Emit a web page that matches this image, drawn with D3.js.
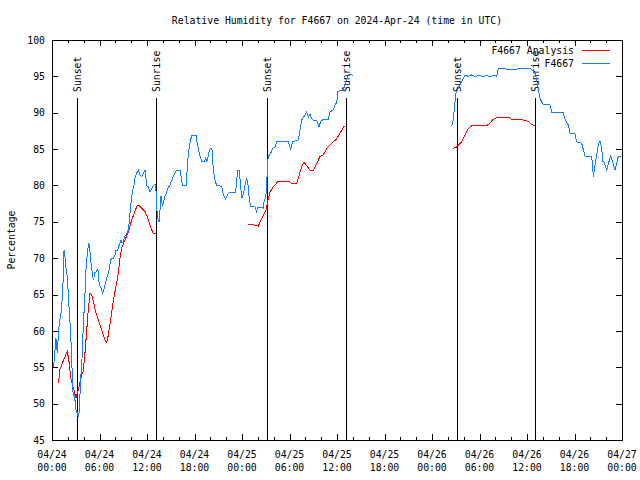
<!DOCTYPE html>
<html>
<head>
<meta charset="utf-8">
<script src="https://cdn.jsdelivr.net/npm/d3@7"></script>
<style>
  body { margin: 0; background: #fff; }
  text { font-family: "DejaVu Sans Mono", monospace; font-size: 9.8px; fill: #000; }
</style>
</head>
<body>
<div id="chart"></div>
<script>
// hours after 2024-04-24 00:00 UTC, null breaks the line
let obsHours = [0.2,0.5,0.67,0.76,0.92,1.14,1.3,1.43,1.52,1.64,1.77,1.93,2.06,2.19,2.36,2.49,2.61,2.69,2.78,2.9,
  3.03,3.2,3.32,3.45,3.54,3.63,3.75,3.88,3.95,4.08,4.17,4.29,4.38,4.51,4.64,4.76,4.89,5.01,5.14,5.27,
  5.39,5.56,5.72,5.85,5.97,6.15,6.27,6.4,6.57,6.69,6.91,7.11,7.24,7.41,7.54,7.74,7.96,8.08,8.3,8.42,
  8.59,8.72,8.84,9.01,9.22,9.44,9.64,9.76,9.89,10.02,10.19,10.36,10.48,10.7,10.9,11.12,11.33,11.53,11.75,11.96,
  12.16,12.38,12.59,12.8,13.1,13.23,13.31,13.52,13.64,13.77,13.93,14.06,14.27,14.49,14.69,14.9,15.12,15.32,15.54,15.75,
  16.17,16.38,16.46,16.93,17.09,17.22,17.43,17.65,18.19,18.35,18.61,18.91,19.24,19.42,19.58,19.74,19.87,20.05,20.21,20.38,
  20.59,20.8,21.43,21.64,21.94,22.14,22.48,23.2,23.33,23.45,23.66,23.83,24.0,24.17,24.38,24.59,24.8,24.92,25.14,25.64,
  25.86,25.93,26.69,26.82,26.97,27.12,27.19,27.32,27.62,27.88,28.17,28.38,29.85,30.15,30.4,31.11,31.33,31.54,31.95,32.17,
  32.37,32.58,32.8,33.0,33.43,33.73,33.94,34.27,34.9,35.11,35.53,35.75,35.97,36.09,36.38,36.8,37.01,37.43,37.86,37.98,
  null,
  50.49,50.69,50.81,50.94,51.03,51.32,51.75,51.95,52.17,52.58,53.01,53.43,53.85,54.48,54.91,55.32,55.96,56.17,56.37,56.8,
  57.43,58.7,59.53,60.38,60.59,61.01,61.22,61.42,61.64,61.85,62.06,62.9,63.12,63.95,64.58,64.8,65.22,65.43,66.06,66.28,
  66.91,67.12,67.33,68.17,68.3,68.38,68.59,68.81,69.01,69.22,69.44,69.56,69.73,70.07,70.27,70.57,70.82,71.11,71.32,71.53,71.83]
let obsRH = [55,59,57,58.7,61,62.5,64.5,67.4,71.1,70.2,68.6,67.4,65.2,62.5,59.7,56,52.3,51,51.3,50.5,
  49.1,48.7,48.2,49,51.4,53.7,55,58.7,60.6,63.3,65.2,68.4,69.7,71.1,72.1,71.4,69.7,68.6,67.4,67,
  68.1,68.1,68.4,68.1,66.3,66,65.6,65.2,65.8,66.3,67.2,68,68.6,69.7,70,70,70.4,71.1,71.1,71.6,
  72.1,72.5,72.1,72.3,73,73.4,73.9,75,76.6,78,79.4,80,81,81.7,82.1,81.4,81.2,81.7,82.1,80,
  79.8,79.1,79.6,80,80.2,77.1,75.7,75,76.6,78.5,77.3,77.6,78.5,79.1,79.8,80,80.7,81.2,81.7,82.1,
  82.1,80.7,80,80,82.4,84.4,85.8,86.9,86.9,85.8,84.4,83.3,83.3,83.8,83.3,84,84.9,85.1,84.9,82.1,
  80.7,80,79.9,78.7,78.1,78.7,79.1,79.1,80.7,82.1,82.1,79.8,78.3,78.8,80,81,79.8,78,77.1,77.1,
  76.2,77,76.9,78,78.3,79.4,82.6,84,84.4,85.1,85.3,86,86,85,86,86.25,87.6,89,89.7,90.1,
  89.4,89.8,89.2,89,89,88.1,88.8,89.1,89.1,90.1,90.4,91.1,91.4,92.9,93.1,93.1,94,95.2,95.2,95,
  null,
  88.1,89,90.4,91.75,92.7,93.4,94.3,94.7,95.2,95,95.2,95,95.1,95,95.1,95,95.1,95,96.1,96.1,
  96,96,96.1,96.1,95.9,95.4,94.5,93.4,92,91.5,91.1,91.1,90.1,90.1,90,89.1,88.3,87.2,87.1,86,
  85.8,84.9,84,84,82.6,81.2,82.8,84.2,85.6,86.1,85.1,83.3,83.2,82.1,83,84,83.3,82.1,83,84,84]

let anaHours = [0.8,1.01,1.43,1.93,2.15,2.36,2.69,3.03,3.32,3.75,3.95,4.17,4.38,4.59,4.8,5.01,5.22,5.52,5.85,6.06,
  6.35,6.69,6.91,7.11,7.33,7.54,7.83,8.08,8.37,8.59,8.8,9.22,9.64,10.07,10.4,10.7,10.9,11.33,11.75,12.04,
  12.29,12.59,12.8,13.14,
  null,
  24.8,25.39,26.06,26.4,26.69,27.03,27.32,27.54,27.95,28.58,29.85,30.28,30.91,31.11,31.54,31.83,32.17,32.59,33.01,33.43,
  33.85,34.27,34.7,35.33,35.96,36.38,36.88,37.05,
  null,
  50.69,51.12,51.75,52.17,52.58,53.01,53.64,54.27,54.91,55.32,55.75,56.37,57.64,58.06,58.9,59.53,60.16,60.59,61.01]
let anaRH = [52.8,54.7,55.9,57.2,55.8,53.5,52.2,50.8,51.9,53.9,54.5,57,60,63,65.2,65,64.1,62.6,61.5,60.8,
  59.9,58.75,58.4,59.4,61,62.6,64.7,66.1,67.9,70,71.4,72.5,73.6,75.25,76.2,77.1,77.3,76.9,76.4,75.7,
  74.8,73.9,73.4,73.4,
  null,
  74.6,74.6,74.4,75.25,75.9,76.6,78.2,79.1,79.8,80.6,80.6,80.3,80.3,81,82.6,83.2,82.7,82.1,82.1,83,
  84,84.2,85.1,85.8,86.4,87.2,88.1,88.2,
  null,
  85.1,85.3,86,86.9,87.85,88.2,88.3,88.2,88.2,88.6,89.1,89.4,89.4,89.1,89.1,89,88.8,88.4,88.2]

let sunsetHours = [3.2, 27.2, 51.1]
let sunriseHours = [13.12, 37.08, 61.05]
let yTicks = [45, 50, 55, 60, 65, 70, 75, 80, 85, 90, 95, 100]

let width = 640
let height = 480
let plotLeft = 52, plotRight = 622, plotTop = 40, plotBottom = 440

let t0 = Date.UTC(2024, 3, 24)
let toDate = (h) => new Date(t0 + h * 3600 * 1000)

let x = d3.scaleUtc()
    .domain([toDate(0), toDate(72)])
    .range([plotLeft, plotRight])
let y = d3.scaleLinear()
    .domain([45, 100])
    .range([plotBottom, plotTop])

let svg = d3.select("#chart").append("svg")
    .attr("width", width)
    .attr("height", height)

// ticks: majors every 6h, minors every 2h, mirrored on top
let majors = d3.utcHour.every(6).range(toDate(0), toDate(72.01))
let minors = d3.utcHour.every(2).range(toDate(0), toDate(72.01))

let tickG = svg.append("g").attr("shape-rendering", "crispEdges")
tickG.append("g").attr("transform", "translate(0," + plotBottom + ")")
    .call(d3.axisBottom(x).tickValues(minors).tickSize(-3).tickSizeOuter(0).tickFormat(""))
tickG.append("g").attr("transform", "translate(0," + plotBottom + ")")
    .call(d3.axisBottom(x).tickValues(majors).tickSize(-6).tickSizeOuter(0).tickFormat(""))
tickG.append("g").attr("transform", "translate(0," + plotTop + ")")
    .call(d3.axisTop(x).tickValues(minors).tickSize(-3).tickSizeOuter(0).tickFormat(""))
tickG.append("g").attr("transform", "translate(0," + plotTop + ")")
    .call(d3.axisTop(x).tickValues(majors).tickSize(-6).tickSizeOuter(0).tickFormat(""))
tickG.append("g").attr("transform", "translate(" + plotRight + ",0)")
    .call(d3.axisRight(y).tickValues(yTicks).tickSize(-6).tickSizeOuter(0).tickFormat(""))
let yAxis = tickG.append("g").attr("transform", "translate(" + plotLeft + ",0)")
    .call(d3.axisLeft(y).tickValues(yTicks).tickSize(-6).tickSizeOuter(0).tickPadding(7).tickFormat(d3.format("d")))

tickG.selectAll(".domain").remove()
tickG.selectAll("line").attr("stroke", "#000")
yAxis.selectAll("text").style("font-family", "DejaVu Sans Mono").style("font-size", "9.8px")

// two-line date labels under the x axis
let fmtDay = d3.utcFormat("%m/%d")
let fmtTime = d3.utcFormat("%H:%M")
let xLabels = svg.append("g").selectAll("text")
    .data(majors)
    .enter().append("text")
    .attr("x", (d) => x(d))
    .attr("text-anchor", "middle")
xLabels.append("tspan").attr("x", (d) => x(d)).attr("y", 458).text((d) => fmtDay(d))
xLabels.append("tspan").attr("x", (d) => x(d)).attr("y", 471).text((d) => fmtTime(d))

// sunset / sunrise markers
let markers = sunsetHours.map((h) => ({ h: h, name: "Sunset" }))
    .concat(sunriseHours.map((h) => ({ h: h, name: "Sunrise" })))

svg.append("g").selectAll("line")
    .data(markers)
    .enter().append("line")
    .attr("x1", (d) => Math.round(x(toDate(d.h))) + 0.5)
    .attr("x2", (d) => Math.round(x(toDate(d.h))) + 0.5)
    .attr("y1", 98)
    .attr("y2", plotBottom)
    .attr("stroke", "#000")
    .attr("shape-rendering", "crispEdges")

svg.append("g").selectAll("text")
    .data(markers)
    .enter().append("text")
    .attr("transform", (d) => "translate(" + (Math.round(x(toDate(d.h))) + 4) + ",92) rotate(-90)")
    .attr("text-anchor", "start")
    .text((d) => d.name)

// data lines, aliased like the original png
let line = (hours) => d3.line()
    .defined((d, i) => hours[i] !== null)
    .x((d, i) => x(toDate(hours[i])))
    .y((d) => y(d))

svg.append("path")
    .datum(anaRH)
    .attr("d", line(anaHours))
    .attr("fill", "none")
    .attr("stroke", "#ff0000")
    .attr("stroke-width", 1)
    .attr("shape-rendering", "crispEdges")

svg.append("path")
    .datum(obsRH)
    .attr("d", line(obsHours))
    .attr("fill", "none")
    .attr("stroke", "#1080ff")
    .attr("stroke-width", 1)
    .attr("shape-rendering", "crispEdges")

// border
svg.append("rect")
    .attr("x", plotLeft + 0.5)
    .attr("y", plotTop + 0.5)
    .attr("width", plotRight - plotLeft)
    .attr("height", plotBottom - plotTop)
    .attr("fill", "none")
    .attr("stroke", "#000")
    .attr("shape-rendering", "crispEdges")

// legend
let legend = [
  { name: "F4667 Analysis", color: "#ff0000", y: 50 },
  { name: "F4667", color: "#1080ff", y: 63 }
]
let lg = svg.append("g").selectAll("g")
    .data(legend)
    .enter().append("g")
lg.append("text")
    .attr("x", 574)
    .attr("y", (d) => d.y + 4)
    .attr("text-anchor", "end")
    .text((d) => d.name)
lg.append("line")
    .attr("x1", 582).attr("x2", 610)
    .attr("y1", (d) => d.y + 0.5).attr("y2", (d) => d.y + 0.5)
    .attr("stroke", (d) => d.color)
    .attr("shape-rendering", "crispEdges")

// title and y label
svg.append("text")
    .attr("x", (plotLeft + plotRight) / 2)
    .attr("y", 24)
    .attr("text-anchor", "middle")
    .text("Relative Humidity for F4667 on 2024-Apr-24 (time in UTC)")

svg.append("text")
    .attr("transform", "translate(15," + ((plotTop + plotBottom) / 2) + ") rotate(-90)")
    .attr("text-anchor", "middle")
    .text("Percentage")
</script>
</body>
</html>
